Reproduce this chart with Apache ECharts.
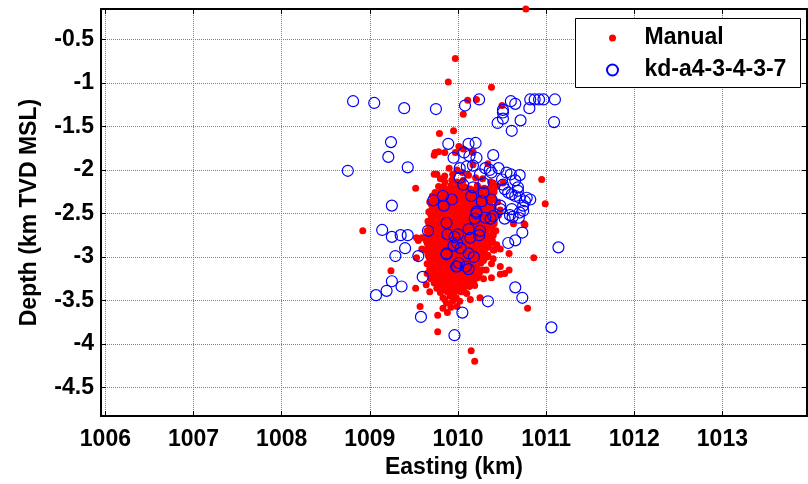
<!DOCTYPE html>
<html>
<head>
<meta charset="utf-8">
<script src="https://cdn.jsdelivr.net/npm/echarts@6/dist/echarts.min.js"></script>
<style>
  html, body { margin: 0; padding: 0; background: #fff; }
  #chart { width: 808px; height: 484px; }
</style>
</head>
<body>
<div id="chart"></div>
<script>
// Tick positions (km)
const eastingTicks = [1006, 1007, 1008, 1009, 1010, 1011, 1012, 1013];
const depthTicks = [-4.5, -4, -3.5, -3, -2.5, -2, -1.5, -1, -0.5];

// Manually picked event locations: [easting km, depth km]
const manualScattered = [
  [1010.77,-0.15],[1009.97,-0.72],[1009.89,-0.99],[1010.38,-1.05],[1010.11,-1.20],[1010.21,-1.19],
  [1010.50,-1.26],[1010.06,-1.36],[1009.79,-1.58],[1009.95,-1.55],[1010.95,-2.11],[1009.52,-2.21],
  [1009.74,-1.80],[1009.78,-1.79],[1009.85,-1.80],[1009.73,-1.83],[1009.97,-1.80],[1010.02,-1.74],
  [1010.17,-1.80],[1010.01,-1.73],[1010.06,-1.76],[1010.17,-1.79],
  [1009.90,-1.98],[1009.73,-2.05],[1009.76,-2.05],[1010.17,-1.94],[1010.34,-1.93],[1009.85,-2.07],
  [1009.85,-2.14],[1009.93,-2.12],[1009.99,-2.14],[1010.06,-2.12],[1010.02,-2.17],[1010.37,-2.14],
  [1010.40,-2.15],[1010.51,-2.15],[1010.38,-2.16],
  [1009.99,-2.00],[1010.05,-2.03],[1009.94,-2.05],[1010.12,-2.06],[1010.20,-2.09],[1009.80,-2.10],[1010.28,-2.10],
  [1009.90,-2.28],[1009.89,-2.32],[1009.85,-2.39],[1009.72,-2.38],[1009.75,-2.47],[1009.73,-2.49],
  [1009.70,-2.62],[1009.83,-2.20],
  [1010.99,-2.39],[1010.48,-2.46],[1010.63,-2.62],[1010.76,-2.63],
  [1008.92,-2.70],[1009.24,-3.16],[1009.52,-3.36],[1009.57,-3.57],[1009.64,-3.32],[1009.77,-3.67],
  [1009.88,-3.64],[1009.77,-3.86],[1009.53,-3.01],[1009.59,-2.78],[1009.55,-2.81],[1009.59,-2.91],
  [1009.66,-2.94],[1009.65,-3.19],[1009.83,-3.59],[1009.85,-3.49],[1009.72,-2.98],[1009.68,-3.40],[1009.53,-2.78],
  [1010.86,-3.01],[1010.79,-3.59],[1010.15,-4.08],[1010.19,-4.20],[1010.38,-3.24],[1010.25,-3.47],
  [1010.14,-3.49],[1010.19,-3.33],[1010.06,-3.40],[1009.99,-3.57],[1010.02,-3.51],[1010.58,-2.96],
  [1010.48,-2.91],[1010.41,-2.92],[1010.48,-3.11],[1010.53,-3.19],[1010.48,-3.20],[1010.58,-3.15],
  [1010.38,-3.08],[1010.32,-3.15],[1010.29,-3.25],[1010.75,-2.62],[1010.39,-2.64],[1010.40,-2.75],
  [1010.35,-2.85],[1010.40,-2.92]
];

// Dense central cloud of manual picks
const manualCluster = [
  [1009.78,-2.19],[1009.85,-2.21],[1009.92,-2.18],[1009.99,-2.20],[1010.07,-2.19],[1010.14,-2.22],[1010.22,-2.18],[1010.30,-2.21],[1010.44,-2.19],
  [1009.74,-2.26],[1009.81,-2.24],[1009.89,-2.26],[1009.96,-2.25],[1010.04,-2.27],[1010.11,-2.24],[1010.19,-2.26],[1010.26,-2.24],[1010.34,-2.27],[1010.41,-2.25],
  [1009.71,-2.30],[1009.79,-2.32],[1009.86,-2.30],[1009.94,-2.33],[1010.01,-2.31],[1010.09,-2.30],[1010.16,-2.32],[1010.23,-2.30],[1010.31,-2.33],[1010.39,-2.31],
  [1009.68,-2.37],[1009.76,-2.35],[1009.83,-2.37],[1009.91,-2.36],[1009.98,-2.38],[1010.06,-2.35],[1010.13,-2.37],[1010.21,-2.36],[1010.28,-2.38],[1010.36,-2.35],[1010.45,-2.37],
  [1009.72,-2.42],[1009.79,-2.41],[1009.87,-2.43],[1009.94,-2.41],[1010.02,-2.43],[1010.09,-2.42],[1010.17,-2.40],[1010.24,-2.43],[1010.32,-2.41],[1010.40,-2.43],
  [1009.67,-2.48],[1009.75,-2.46],[1009.82,-2.48],[1009.90,-2.47],[1009.97,-2.49],[1010.05,-2.46],[1010.12,-2.48],[1010.20,-2.47],[1010.27,-2.49],[1010.35,-2.46],
  [1009.70,-2.53],[1009.78,-2.52],[1009.85,-2.54],[1009.93,-2.52],[1010.00,-2.54],[1010.08,-2.53],[1010.15,-2.51],[1010.23,-2.54],[1010.30,-2.52],[1010.38,-2.54],[1010.46,-2.52],
  [1009.66,-2.59],[1009.73,-2.57],[1009.81,-2.59],[1009.88,-2.58],[1009.96,-2.60],[1010.03,-2.57],[1010.11,-2.59],[1010.18,-2.58],[1010.26,-2.60],[1010.33,-2.57],[1010.41,-2.59],
  [1009.69,-2.64],[1009.77,-2.63],[1009.84,-2.65],[1009.92,-2.63],[1009.99,-2.65],[1010.07,-2.64],[1010.14,-2.62],[1010.22,-2.65],[1010.29,-2.63],[1010.37,-2.65],
  [1009.65,-2.70],[1009.72,-2.68],[1009.80,-2.70],[1009.87,-2.69],[1009.95,-2.71],[1010.02,-2.68],[1010.10,-2.70],[1010.17,-2.69],[1010.25,-2.71],[1010.32,-2.68],[1010.43,-2.70],
  [1009.68,-2.75],[1009.76,-2.74],[1009.83,-2.76],[1009.91,-2.74],[1009.98,-2.76],[1010.06,-2.75],[1010.13,-2.73],[1010.21,-2.76],[1010.28,-2.74],[1010.36,-2.76],
  [1009.64,-2.81],[1009.71,-2.79],[1009.79,-2.81],[1009.86,-2.80],[1009.94,-2.82],[1010.01,-2.79],[1010.09,-2.81],[1010.16,-2.80],[1010.24,-2.82],[1010.31,-2.79],[1010.39,-2.81],
  [1009.67,-2.86],[1009.75,-2.85],[1009.82,-2.87],[1009.90,-2.85],[1009.97,-2.87],[1010.05,-2.86],[1010.12,-2.84],[1010.20,-2.87],[1010.27,-2.85],[1010.35,-2.87],[1010.44,-2.86],
  [1009.63,-2.92],[1009.70,-2.90],[1009.78,-2.92],[1009.85,-2.91],[1009.93,-2.93],[1010.00,-2.90],[1010.08,-2.92],[1010.15,-2.91],[1010.23,-2.93],[1010.30,-2.90],
  [1009.66,-2.97],[1009.74,-2.96],[1009.81,-2.98],[1009.89,-2.96],[1009.96,-2.98],[1010.04,-2.97],[1010.11,-2.95],[1010.19,-2.98],[1010.26,-2.96],[1010.34,-2.98],
  [1009.69,-3.03],[1009.77,-3.01],[1009.84,-3.03],[1009.92,-3.02],[1009.99,-3.04],[1010.07,-3.01],[1010.14,-3.03],[1010.22,-3.02],[1010.29,-3.04],[1010.40,-3.02],
  [1009.65,-3.08],[1009.72,-3.07],[1009.80,-3.09],[1009.87,-3.07],[1009.95,-3.09],[1010.02,-3.08],[1010.10,-3.06],[1010.17,-3.09],[1010.25,-3.07],
  [1009.68,-3.14],[1009.76,-3.12],[1009.83,-3.14],[1009.91,-3.13],[1009.98,-3.15],[1010.06,-3.12],[1010.13,-3.14],[1010.21,-3.13],[1010.28,-3.15],
  [1009.71,-3.19],[1009.79,-3.18],[1009.86,-3.20],[1009.94,-3.18],[1010.01,-3.20],[1010.09,-3.19],[1010.16,-3.17],[1010.24,-3.20],
  [1009.69,-3.25],[1009.77,-3.23],[1009.84,-3.25],[1009.92,-3.24],[1009.99,-3.26],[1010.07,-3.23],[1010.14,-3.25],[1010.22,-3.24],
  [1009.73,-3.30],[1009.81,-3.29],[1009.88,-3.31],[1009.96,-3.29],[1010.03,-3.31],[1010.11,-3.30],[1010.18,-3.28],
  [1009.76,-3.36],[1009.84,-3.34],[1009.91,-3.36],[1009.99,-3.35],[1010.06,-3.37],[1010.13,-3.34],
  [1009.80,-3.41],[1009.88,-3.40],[1009.95,-3.42],[1010.03,-3.40],[1010.10,-3.42],
  [1009.83,-3.47],[1009.91,-3.45],[1009.98,-3.47],
  [1009.87,-3.53],[1009.94,-3.51],[1009.92,-3.58]
];

// Further picks packed between the rows of the central cloud
const manualClusterInner = [
  [1009.82,-2.22],[1009.89,-2.23],[1009.96,-2.22],[1010.03,-2.23],[1010.10,-2.21],[1010.18,-2.23],[1010.26,-2.22],[1010.37,-2.22],
  [1009.75,-2.29],[1009.83,-2.28],[1009.90,-2.29],[1009.98,-2.28],[1010.05,-2.29],[1010.12,-2.27],[1010.20,-2.29],[1010.27,-2.28],[1010.35,-2.30],
  [1009.72,-2.34],[1009.80,-2.35],[1009.87,-2.33],[1009.95,-2.35],[1010.02,-2.34],[1010.10,-2.33],[1010.17,-2.35],[1010.25,-2.34],[1010.32,-2.36],[1010.40,-2.34],
  [1009.70,-2.40],[1009.76,-2.39],[1009.84,-2.40],[1009.91,-2.39],[1009.98,-2.41],[1010.06,-2.39],[1010.13,-2.40],[1010.21,-2.39],[1010.28,-2.41],[1010.36,-2.40],
  [1009.71,-2.45],[1009.79,-2.44],[1009.86,-2.46],[1009.93,-2.44],[1010.01,-2.46],[1010.08,-2.45],[1010.16,-2.44],[1010.23,-2.46],[1010.31,-2.44],[1010.39,-2.45],
  [1009.69,-2.51],[1009.74,-2.50],[1009.82,-2.51],[1009.89,-2.50],[1009.97,-2.52],[1010.04,-2.50],[1010.12,-2.51],[1010.19,-2.50],[1010.27,-2.52],[1010.34,-2.50],[1010.42,-2.51],
  [1009.70,-2.56],[1009.77,-2.55],[1009.85,-2.57],[1009.92,-2.55],[1010.00,-2.57],[1010.07,-2.56],[1010.15,-2.55],[1010.22,-2.57],[1010.30,-2.55],[1010.37,-2.56],
  [1009.67,-2.62],[1009.73,-2.61],[1009.81,-2.62],[1009.88,-2.61],[1009.96,-2.63],[1010.03,-2.61],[1010.11,-2.62],[1010.18,-2.61],[1010.26,-2.63],[1010.33,-2.61],[1010.41,-2.62],
  [1009.68,-2.67],[1009.76,-2.66],[1009.83,-2.68],[1009.91,-2.66],[1009.98,-2.68],[1010.06,-2.67],[1010.13,-2.66],[1010.21,-2.68],[1010.28,-2.66],[1010.36,-2.67],
  [1009.66,-2.73],[1009.72,-2.72],[1009.80,-2.73],[1009.87,-2.72],[1009.95,-2.74],[1010.02,-2.72],[1010.10,-2.73],[1010.17,-2.72],[1010.25,-2.74],[1010.32,-2.72],[1010.40,-2.73],
  [1009.67,-2.78],[1009.75,-2.77],[1009.82,-2.79],[1009.90,-2.77],[1009.97,-2.79],[1010.05,-2.78],[1010.12,-2.77],[1010.20,-2.79],[1010.27,-2.77],[1010.35,-2.78],
  [1009.65,-2.84],[1009.71,-2.83],[1009.79,-2.84],[1009.86,-2.83],[1009.94,-2.85],[1010.01,-2.83],[1010.09,-2.84],[1010.16,-2.83],[1010.24,-2.85],[1010.31,-2.83],[1010.39,-2.84],
  [1009.66,-2.89],[1009.74,-2.88],[1009.81,-2.90],[1009.89,-2.88],[1009.96,-2.90],[1010.04,-2.89],[1010.11,-2.88],[1010.19,-2.90],[1010.26,-2.88],[1010.34,-2.89],
  [1009.67,-2.95],[1009.70,-2.94],[1009.78,-2.95],[1009.85,-2.94],[1009.93,-2.96],[1010.00,-2.94],[1010.08,-2.95],[1010.15,-2.94],[1010.23,-2.96],[1010.30,-2.94],
  [1009.67,-3.00],[1009.73,-2.99],[1009.81,-3.01],[1009.88,-2.99],[1009.96,-3.01],[1010.03,-3.00],[1010.11,-2.99],[1010.18,-3.01],[1010.26,-2.99],[1010.33,-3.00],
  [1009.68,-3.06],[1009.74,-3.05],[1009.81,-3.06],[1009.88,-3.05],[1009.96,-3.07],[1010.03,-3.05],[1010.11,-3.06],[1010.18,-3.05],[1010.26,-3.07],
  [1009.69,-3.11],[1009.76,-3.10],[1009.84,-3.12],[1009.91,-3.10],[1009.99,-3.12],[1010.06,-3.11],[1010.14,-3.10],[1010.21,-3.12],
  [1009.72,-3.16],[1009.80,-3.16],[1009.87,-3.17],[1009.95,-3.16],[1010.02,-3.18],[1010.10,-3.16],[1010.17,-3.17],[1010.25,-3.16],
  [1009.73,-3.22],[1009.80,-3.21],[1009.88,-3.22],[1009.95,-3.21],[1010.03,-3.23],[1010.10,-3.21],[1010.18,-3.22],
  [1009.75,-3.27],[1009.83,-3.26],[1009.90,-3.28],[1009.98,-3.26],[1010.05,-3.28],[1010.13,-3.27],
  [1009.79,-3.33],[1009.87,-3.32],[1009.94,-3.33],[1010.02,-3.32],[1010.09,-3.33],
  [1009.84,-3.38],[1009.92,-3.38],[1009.99,-3.39],[1010.06,-3.38]
];

// Automatic (kd-a4-3-4-3-7) event locations: [easting km, depth km]
const autoPicks = [
  [1008.81,-1.21],[1009.05,-1.23],[1009.39,-1.29],[1009.75,-1.30],[1010.08,-1.26],[1010.24,-1.19],
  [1010.60,-1.21],[1010.65,-1.24],[1010.51,-1.31],[1010.51,-1.34],[1010.51,-1.41],[1010.45,-1.46],
  [1010.61,-1.55],[1010.71,-1.43],[1010.82,-1.19],[1010.87,-1.19],[1010.92,-1.19],[1010.97,-1.19],
  [1011.10,-1.19],[1010.81,-1.29],[1011.09,-1.45],
  [1009.24,-1.68],[1009.89,-1.70],[1009.21,-1.85],[1009.95,-1.86],[1008.75,-2.01],[1009.43,-1.97],
  [1009.25,-2.41],[1009.72,-2.35],[1009.83,-2.30],[1009.84,-2.41],[1009.93,-2.34],[1009.14,-2.69],
  [1009.87,-2.61],[1009.25,-2.77],[1009.35,-2.75],[1009.43,-2.75],[1009.40,-2.90],[1009.29,-2.99],
  [1009.55,-2.99],[1009.66,-2.70],[1009.60,-3.23],[1009.25,-3.28],[1009.36,-3.34],[1009.19,-3.39],
  [1009.07,-3.44],[1009.58,-3.69],[1009.96,-3.90],[1009.87,-2.96],[1009.98,-3.11],
  [1011.14,-2.89],[1010.65,-3.35],[1010.73,-3.47],[1010.34,-3.51],[1010.05,-3.64],[1011.06,-3.81],
  [1010.57,-2.84],[1010.65,-2.81],[1010.73,-2.72],
  [1010.12,-1.70],[1010.20,-1.69],[1010.07,-1.80],[1010.13,-1.84],[1010.21,-1.86],[1010.40,-1.83],
  [1010.10,-1.96],[1010.17,-1.95],[1010.02,-1.98],[1010.31,-1.98],[1010.36,-2.00],[1010.46,-1.98],
  [1010.55,-2.03],[1010.60,-2.05],[1010.70,-2.06],[1010.65,-2.12],[1010.38,-2.03],[1010.25,-2.05],
  [1010.50,-2.11],[1010.51,-2.17],[1010.53,-2.22],[1010.57,-2.26],[1010.61,-2.28],[1010.65,-2.30],
  [1010.68,-2.20],[1010.70,-2.32],[1010.76,-2.36],[1010.78,-2.32],[1010.74,-2.41],[1010.70,-2.49],
  [1010.61,-2.45],[1010.48,-2.41],[1010.38,-2.34],[1010.29,-2.26],[1010.27,-2.36],[1010.17,-2.20],
  [1010.15,-2.30],[1010.21,-2.50],[1010.40,-2.53],[1010.53,-2.56],[1010.59,-2.52],[1010.06,-2.17],
  [1010.02,-2.09],[1010.29,-2.15],[1010.82,-2.34],
  [1010.21,-2.48],[1010.19,-2.56],[1010.31,-2.55],[1010.37,-2.56],[1010.48,-2.45],[1010.62,-2.54],
  [1010.69,-2.55],[1010.74,-2.47],[1010.68,-2.24],
  [1009.88,-2.74],[1010.00,-2.74],[1010.12,-2.68],[1010.25,-2.70],[1010.24,-2.75],[1010.14,-2.78],
  [1009.96,-2.77],[1009.99,-2.84],[1009.95,-2.87],[1010.03,-2.90],[1009.87,-2.97],[1010.12,-2.96],
  [1010.18,-3.00],[1009.99,-3.11],[1010.09,-3.11],[1010.12,-3.14],[1010.01,-3.07]
];

const FONT = "'Liberation Sans', Arial, Helvetica, sans-serif";
const chart = echarts.init(document.getElementById('chart'), null, { renderer: 'canvas' });

const labelStyle = { color: '#000', fontFamily: FONT, fontWeight: 'bold', fontSize: 23 };
const lineStyle = { color: '#000', width: 2 };
const gridLine = { show: true, lineStyle: { color: '#808080', width: 1, type: 'dotted' } };
const legendText = { color: '#000', fontFamily: FONT, fontWeight: 'bold', fontSize: 23, lineHeight: 26 };

chart.setOption({
  animation: false,
  backgroundColor: '#fff',
  grid: { left: 101, top: 9, width: 706, height: 412, containLabel: false },
  // legend frame
  graphic: [{
    type: 'rect', z: 100, silent: true,
    shape: { x: 575.5, y: 18.5, width: 225, height: 69 },
    style: { fill: '#fff', stroke: '#000', lineWidth: 1 }
  }],
  legend: [{
    left: 609, top: 25, z: 110, padding: 0,
    itemWidth: 54, itemHeight: 7,
    textStyle: legendText,
    data: ['Manual']
  }, {
    left: 606, top: 57, z: 110, padding: 0,
    itemWidth: 54, itemHeight: 11,
    textStyle: legendText,
    data: ['kd-a4-3-4-3-7']
  }],
  xAxis: [{
    type: 'value', position: 'bottom', min: 1005.95, max: 1013.96,
    name: 'Easting (km)', nameLocation: 'middle', nameGap: 34,
    nameTextStyle: labelStyle,
    axisLine: { show: true, onZero: false, lineStyle },
    axisTick: { show: true, inside: true, length: 5, customValues: eastingTicks, lineStyle: { color: '#000', width: 1 } },
    axisLabel: { customValues: eastingTicks, margin: 12, formatter: v => String(v), ...labelStyle },
    splitLine: gridLine
  }, {
    type: 'value', position: 'top', min: 1005.95, max: 1013.96,
    axisLine: { show: true, onZero: false, lineStyle },
    axisTick: { show: true, inside: true, length: 5, customValues: eastingTicks, lineStyle: { color: '#000', width: 1 } },
    axisLabel: { show: false },
    splitLine: { show: false }
  }],
  yAxis: [{
    type: 'value', position: 'left', min: -4.83, max: -0.15,
    name: 'Depth (km TVD MSL)', nameLocation: 'middle', nameGap: 60,
    nameTextStyle: labelStyle,
    axisLine: { show: true, onZero: false, lineStyle },
    axisTick: { show: true, inside: true, length: 5, customValues: depthTicks, lineStyle: { color: '#000', width: 1 } },
    axisLabel: { customValues: depthTicks, margin: 7, formatter: v => String(v), ...labelStyle },
    splitLine: gridLine
  }, {
    type: 'value', position: 'right', min: -4.83, max: -0.15,
    axisLine: { show: true, onZero: false, lineStyle },
    axisTick: { show: true, inside: true, length: 5, customValues: depthTicks, lineStyle: { color: '#000', width: 1 } },
    axisLabel: { show: false },
    splitLine: { show: false }
  }],
  series: [{
    name: 'Manual',
    type: 'scatter',
    xAxisIndex: 0, yAxisIndex: 0,
    symbol: 'circle', symbolSize: 7,
    itemStyle: { color: '#ff0000', opacity: 1 },
    emphasis: { disabled: true },
    data: manualScattered.concat(manualCluster, manualClusterInner)
  }, {
    name: 'kd-a4-3-4-3-7',
    type: 'scatter',
    xAxisIndex: 0, yAxisIndex: 0,
    symbol: 'circle', symbolSize: 11,
    itemStyle: { color: 'rgba(0,0,0,0)', borderColor: '#0000ff', borderWidth: 1.2, opacity: 1 },
    emphasis: { disabled: true },
    data: autoPicks
  }]
});
</script>
</body>
</html>
